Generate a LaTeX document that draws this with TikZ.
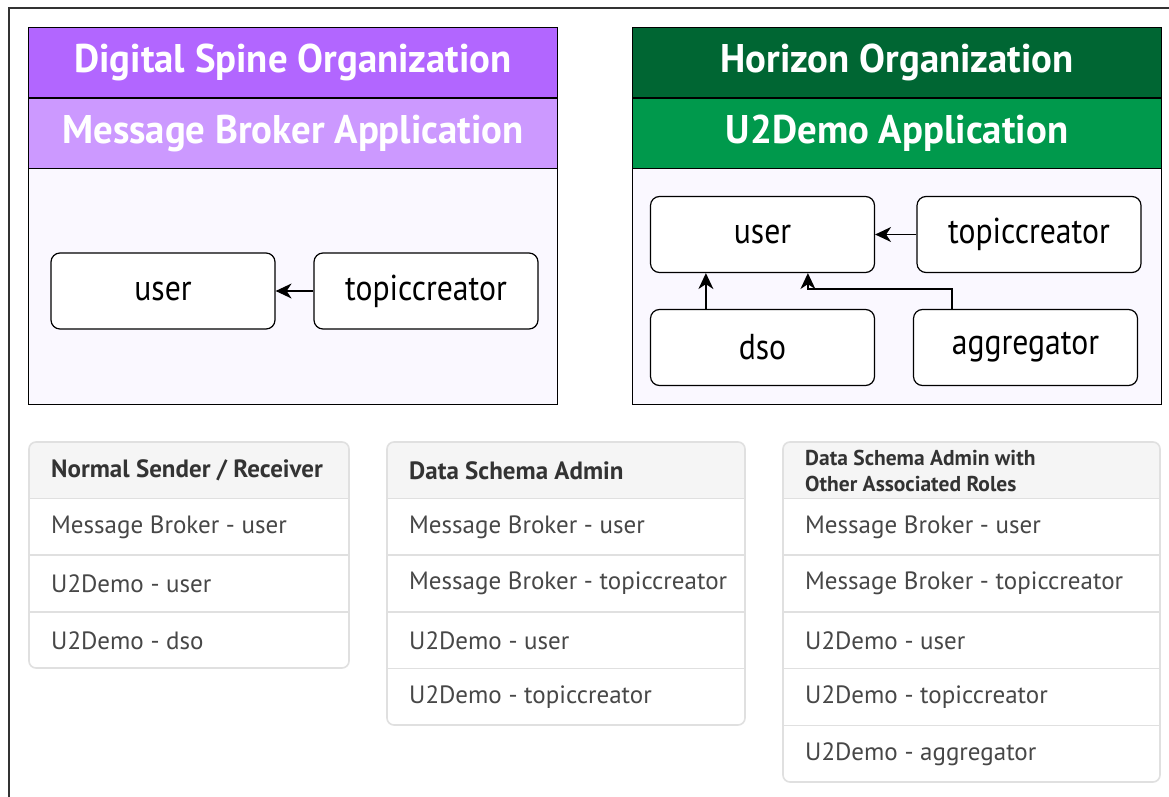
\documentclass[tikz,border=0pt]{standalone}
\usepackage{fontspec}
\setmainfont{PT Sans}
\newfontfamily\ttlfont[FakeStretch=0.97]{PT Sans}
\newfontfamily\rolefont[FakeStretch=0.88]{PT Sans}
\newfontfamily\cellfont{PT Sans}
\usetikzlibrary{arrows.meta}

\definecolor{dsA}{HTML}{B266FF}
\definecolor{dsB}{HTML}{CC99FF}
\definecolor{hzA}{HTML}{006633}
\definecolor{hzB}{HTML}{00994C}
\definecolor{orgbody}{HTML}{FAF8FF}
\definecolor{tblline}{HTML}{E0E0E0}
\definecolor{tblhead}{HTML}{F5F5F5}
\definecolor{headtxt}{HTML}{333333}
\definecolor{celltxt}{HTML}{474747}
\definecolor{framecol}{HTML}{333333}

\tikzset{
  band/.style={draw=black, line width=1.2pt, anchor=north west, text=white,
    minimum width=529pt, minimum height=70.5pt, inner sep=0pt,
    font=\ttlfont\bfseries\fontsize{40}{48}\selectfont},
  orgbody/.style={draw=black, line width=1.2pt, fill=orgbody, anchor=north west,
    minimum width=529pt, minimum height=236pt, inner sep=0pt},
  rolebox/.style={draw=black, line width=1.2pt, fill=white, rounded corners=9pt,
    minimum width=224pt, minimum height=76pt, inner sep=0pt,
    font=\rolefont\fontsize{36}{40}\selectfont},
  link/.style={line width=1.4pt, -{Stealth[length=16pt,width=15pt,inset=5pt]}},
  cell/.style={anchor=north west, inner xsep=22pt, inner ysep=0pt,
    minimum height=56.7pt, align=left, text=celltxt,
    font=\cellfont\fontsize{25}{28}\selectfont},
  headcell/.style={cell, text=headtxt,
    font=\cellfont\bfseries\fontsize{25}{28}\selectfont},
  tblframe/.style={draw=tblline, line width=1.6pt, rounded corners=7pt},
  tblsep/.style={draw=tblline, line width=1.6pt},
}

\begin{document}
\begin{tikzpicture}[x=1pt, y=-1pt]
\useasboundingbox (0,0) rectangle (1169,797);
\fill[white] (0,0) rectangle (1169,797);

% page frame
\draw[framecol, line width=2pt] (1169,8) -- (9,8) -- (9,797);

% ---------------- Digital Spine organization ----------------
\node[orgbody] (dsbody) at (28,168) {};
\node[band, fill=dsA] (dsorg) at (28,27) {Digital Spine Organization};
\node[band, fill=dsB] (dsapp) at (28,97.5) {Message Broker Application};

\node[rolebox] (mbuser) at (163,291) {user};
\node[rolebox] (mbtopic) at (426,291) {topiccreator};
\draw[link] (mbtopic.west) -- (mbuser.east);

% ---------------- Horizon organization ----------------
\node[orgbody] (hzbody) at (632,168) {};
\node[band, fill=hzA] (hzorg) at (632,27) {Horizon Organization};
\node[band, fill=hzB] (hzapp) at (632,97.5) {U2Demo Application};

\node[rolebox] (uduser) at (762.5,234.5) {user};
\node[rolebox] (udtopic) at (1029,234.5) {topiccreator};
\node[rolebox] (uddso) at (762.5,347.5) {dso};
\node[rolebox] (udagg) at (1025.5,347.5) {aggregator};

\draw[link] (udtopic.west) -- (uduser.east);
\draw[link] ([xshift=56pt]uddso.north west) -- ([xshift=56pt]uduser.south west);
\draw[link] ([xshift=39pt]udagg.north west) -- ++(0,-20) -| ([xshift=158pt]uduser.south west);

% ---------------- role tables ----------------
% table 1
\begin{scope}
  \clip[rounded corners=7pt] (29,442) rectangle (349,668);
  \fill[tblhead] (29,442) rectangle (349,498);
\end{scope}
\node[headcell] (ta) at (29,442) {Normal Sender / Receiver};
\node[cell] (ta1) at (29,498.5) {Message Broker - user};
\node[cell] (ta2) at (29,555.2) {U2Demo - user};
\node[cell] (ta3) at (29,611.9) {U2Demo - dso};
\draw[tblsep] (29,498.5) -- (349,498.5);
\draw[tblsep] (29,555.2) -- (349,555.2);
\draw[tblsep] (29,611.9) -- (349,611.9);
\draw[tblframe] (29,442) rectangle (349,668);

% table 2
\begin{scope}
  \clip[rounded corners=7pt] (387,442) rectangle (745,725);
  \fill[tblhead] (387,442) rectangle (745,498);
\end{scope}
\node[headcell] (tb) at (387,442) {Data Schema Admin};
\node[cell] (tb1) at (387,498.5) {Message Broker - user};
\node[cell] (tb2) at (387,555.2) {Message Broker - topiccreator};
\node[cell] (tb3) at (387,611.9) {U2Demo - user};
\node[cell] (tb4) at (387,668.6) {U2Demo - topiccreator};
\draw[tblsep] (387,498.5) -- (745,498.5);
\draw[tblsep] (387,555.2) -- (745,555.2);
\draw[tblsep] (387,611.9) -- (745,611.9);
\draw[tblsep] (387,668.6) -- (745,668.6);
\draw[tblframe] (387,442) rectangle (745,725);

% table 3
\begin{scope}
  \clip[rounded corners=7pt] (783,442) rectangle (1160,782);
  \fill[tblhead] (783,442) rectangle (1160,498);
\end{scope}
\node[headcell, font=\cellfont\bfseries\fontsize{21.5}{26}\selectfont] (tc) at (783,442)
  {Data Schema Admin with\\Other Associated Roles};
\node[cell] (tc1) at (783,498.5) {Message Broker - user};
\node[cell] (tc2) at (783,555.2) {Message Broker - topiccreator};
\node[cell] (tc3) at (783,611.9) {U2Demo - user};
\node[cell] (tc4) at (783,668.6) {U2Demo - topiccreator};
\node[cell] (tc5) at (783,725.3) {U2Demo - aggregator};
\draw[tblsep] (783,498.5) -- (1160,498.5);
\draw[tblsep] (783,555.2) -- (1160,555.2);
\draw[tblsep] (783,611.9) -- (1160,611.9);
\draw[tblsep] (783,668.6) -- (1160,668.6);
\draw[tblsep] (783,725.3) -- (1160,725.3);
\draw[tblframe] (783,442) rectangle (1160,782);
\end{tikzpicture}
\end{document}
